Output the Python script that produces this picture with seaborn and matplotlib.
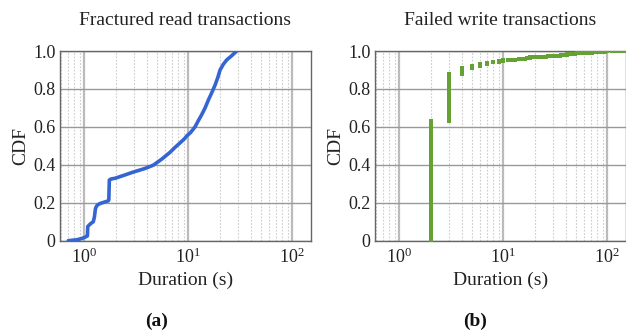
import numpy as np
import pandas as pd
import matplotlib
matplotlib.use("Agg")
import matplotlib.pyplot as plt
from matplotlib.ticker import LogLocator, FixedLocator, NullFormatter
import seaborn as sns

# ---------------- data ----------------
# (a) Fractured read transactions: CDF curve points (duration s, cdf)
read_duration = [0.70, 0.85, 0.95, 1.03, 1.07, 1.08, 1.15, 1.22, 1.25, 1.28, 1.32, 1.40,
                 1.55, 1.70, 1.72, 1.74, 1.80, 2.0, 2.5, 2.96, 3.4, 3.84, 4.6, 5.55, 6.67,
                 7.45, 8.3, 9.2, 9.65, 10.5, 11.6, 12.4, 13.4, 14.5, 15.6, 16.8, 18.1,
                 19.2, 20.2, 21.7, 23.4, 26.1, 29.2]
read_cdf = [0.0, 0.005, 0.012, 0.02, 0.025, 0.075, 0.09, 0.10, 0.125, 0.17, 0.185, 0.195,
            0.203, 0.21, 0.215, 0.32, 0.325, 0.33, 0.348, 0.362, 0.372, 0.381, 0.398, 0.43,
            0.466, 0.492, 0.515, 0.538, 0.552, 0.57, 0.60, 0.63, 0.663, 0.70, 0.742, 0.78,
            0.821, 0.86, 0.90, 0.93, 0.953, 0.975, 1.0]

# (b) Failed write transactions: durations (s) and number of transactions
write_duration = [2, 3, 4, 5, 6, 7, 8, 9, 10, 11, 12, 13, 14, 15, 16, 17, 18,
                  19, 20, 21, 22, 23, 24, 25, 26, 27, 28, 29, 30, 31, 32, 33, 34,
                  35, 36, 37, 38, 39, 40, 41, 42, 43, 44,
                  45, 47, 49, 51, 53, 55, 57, 59, 61, 63, 65, 67, 69, 71, 73, 75,
                  77, 79, 81, 83, 85, 87, 89,
                  95, 100, 110, 120, 130, 140, 150]
write_count = [1266, 500, 58, 20, 26, 14, 8, 6, 8, 6, 2, 2, 2, 2, 6, 6, 8,
               1, 1, 1, 1, 1, 1, 1, 1, 1, 1, 1, 1, 1, 1, 1, 1,
               2, 2, 2, 2, 2, 2, 2, 2, 2, 2,
               1, 1, 1, 1, 1, 1, 1, 1, 1, 1, 1, 1, 1, 1, 1, 1,
               1, 1, 1, 1, 1, 1, 1,
               1, 1, 1, 1, 1, 1, 1]

titles = ["Fractured read transactions", "Failed write transactions"]
panel_labels = ["(a)", "(b)"]
ytick_values = [0, 0.2, 0.4, 0.6, 0.8, 1.0]
ytick_labels = ["0", "0.2", "0.4", "0.6", "0.8", "1.0"]
xtick_values = [1, 10, 100]
xtick_labels = [r"$10^0$", r"$10^1$", r"$10^2$"]

# ---------------- style ----------------
sns.set_style("white")
plt.rcParams["font.family"] = ["Liberation Serif", "DejaVu Serif"]
plt.rcParams["mathtext.fontset"] = "custom"
plt.rcParams["mathtext.rm"] = "Liberation Serif"
plt.rcParams["mathtext.it"] = "Liberation Serif:italic"

BLUE = "#3465d0"
GREEN = "#66a133"
TXT = "#222222"

fig = plt.figure(figsize=(6.26, 3.30), dpi=100)
ax_a = fig.add_axes([0.0954, 0.2706, 0.4008, 0.5748])
ax_b = fig.add_axes([0.5986, 0.2706, 0.4008, 0.5748])

# (a)
df_a = pd.DataFrame({"duration": read_duration, "cdf": read_cdf})
sns.lineplot(data=df_a, x="duration", y="cdf", ax=ax_a, color=BLUE, lw=2.6,
             sort=False, estimator=None, zorder=3)

# (b) ECDF points from counts
expanded = np.repeat(np.array(write_duration, dtype=float), write_count)
cdf_b = np.arange(1, len(expanded) + 1) / len(expanded)
df_b = pd.DataFrame({"duration": expanded, "cdf": cdf_b})
sns.scatterplot(data=df_b, x="duration", y="cdf", ax=ax_b, color=GREEN, marker="s",
                s=5.0, linewidth=0, zorder=3, clip_on=True)

for ax, title, lab, cx in zip([ax_a, ax_b], titles, panel_labels, [0.25, 0.759]):
    ax.set_xscale("log")
    ax.set_xlim(0.58, 150)
    ax.set_ylim(0, 1.0)
    ax.xaxis.set_major_locator(FixedLocator(xtick_values))
    ax.set_xticklabels(xtick_labels)
    ax.xaxis.set_minor_locator(LogLocator(base=10, subs=np.arange(2, 10)))
    ax.xaxis.set_minor_formatter(NullFormatter())
    ax.set_yticks(ytick_values)
    ax.set_yticklabels(ytick_labels)
    ax.tick_params(axis="x", which="both", length=0, labelsize=13, pad=5, colors=TXT)
    ax.tick_params(axis="y", which="both", length=0, labelsize=13, pad=3, colors=TXT)
    ax.grid(True, which="major", axis="y", color="#999999", lw=1.0, ls="-")
    ax.grid(True, which="major", axis="x", color="#bbbbbb", lw=1.6, ls="-")
    ax.grid(True, which="minor", axis="x", color="#cccccc", lw=0.8, ls=(0, (1.5, 1.5)))
    ax.set_axisbelow(True)
    for sp in ax.spines.values():
        sp.set_color("#666666")
        sp.set_linewidth(1.0)
    ax.set_xlabel("Duration (s)", fontsize=14, labelpad=3, color=TXT)
    ax.set_ylabel("CDF", fontsize=14, labelpad=3, color=TXT)
    ax.set_title(title, fontsize=14, pad=19, color=TXT)
    fig.text(cx, 0.025, lab, ha="center", va="center", fontsize=14, fontweight="bold",
             color="#111111")

fig.savefig("out.png", dpi=100)
